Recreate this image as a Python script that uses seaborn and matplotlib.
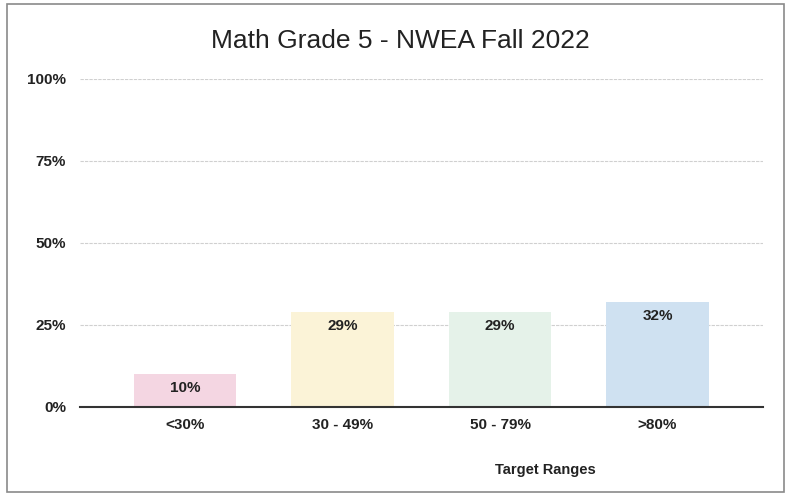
import matplotlib
matplotlib.use("Agg")
import matplotlib.pyplot as plt
import seaborn as sns
import pandas as pd
from matplotlib.patches import Rectangle

# chart data
ranges = ["<30%", "30 - 49%", "50 - 79%", ">80%"]
percent = [10, 29, 29, 32]
bar_colors = ["#f4d6e2", "#fbf3d7", "#e5f2e9", "#cfe1f1"]

df = pd.DataFrame({"range": ranges, "pct": percent})

sns.set_style("white")
plt.rcParams["font.family"] = ["Liberation Sans", "DejaVu Sans"]

fig = plt.figure(figsize=(7.88, 4.95), dpi=100)
ax = fig.add_axes([80 / 788, 1 - 407 / 495, 683 / 788, 328 / 495])

sns.barplot(data=df, x="range", y="pct", hue="range", palette=bar_colors,
            saturation=1, width=0.65, legend=False, ax=ax, edgecolor="none")

ax.set_ylim(0, 100)
ax.set_xlim(-0.667, 3.67)
ax.set_yticks([0, 25, 50, 75, 100])
ax.set_yticklabels(["0%", "25%", "50%", "75%", "100%"])
ax.yaxis.grid(True, color="#d0d0d0", linewidth=0.8, linestyle=(0, (3, 1)))
ax.set_axisbelow(True)
for s in ["top", "right", "left"]:
    ax.spines[s].set_visible(False)
ax.spines["bottom"].set_color("#333333")
ax.spines["bottom"].set_linewidth(1.5)
ax.tick_params(axis="both", length=0, labelsize=11)
ax.tick_params(axis="y", pad=10)
ax.tick_params(axis="x", pad=8)
for lab in ax.get_xticklabels() + ax.get_yticklabels():
    lab.set_fontweight("bold")
    lab.set_color("#222222")

# value labels inside the top of each bar
for i, v in enumerate(percent):
    ax.text(i, v - 2.2, f"{v}%", ha="center", va="top", fontsize=11,
            fontweight="bold", color="#222222")

ax.set_ylabel("")
ax.set_xlabel("Target Ranges", fontsize=10.5, fontweight="bold", color="#222222")
ax.xaxis.set_label_coords((545 - 80) / 683, -(463 - 407) / 328)

fig.text(400 / 788, 1 - 41 / 495, "Math Grade 5 - NWEA Fall 2022",
         ha="center", va="center", fontsize=19,
         family=["Liberation Sans Narrow", "Liberation Sans", "DejaVu Sans"],
         color="#222222")

# outer frame
fig.patches.append(Rectangle((7 / 788, 1 - 492 / 495), 777 / 788, 488 / 495,
                             transform=fig.transFigure, fill=False,
                             edgecolor="#8a8a8a", linewidth=1.2))

fig.savefig("out.png", dpi=100)
